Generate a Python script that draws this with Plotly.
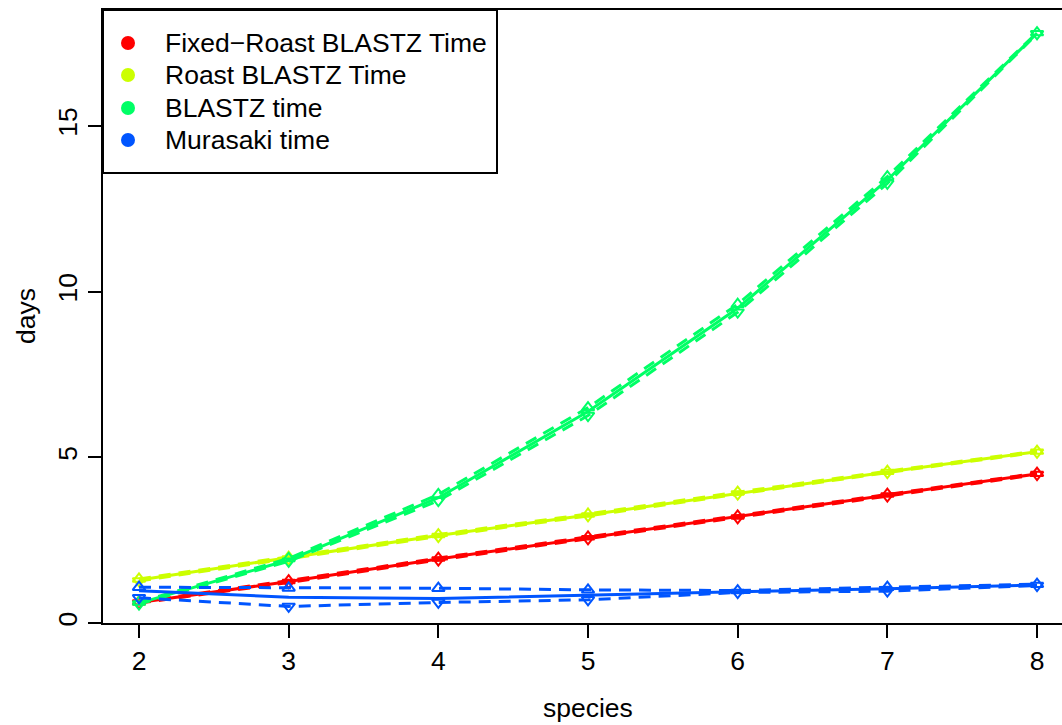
import plotly.graph_objects as go

species = [2, 3, 4, 5, 6, 7, 8]

series_names = ["Fixed\u2212Roast BLASTZ Time", "Roast BLASTZ Time", "BLASTZ time", "Murasaki time"]
series_colors = ["#FF0000", "#CCFF00", "#00FF66", "#0055FF"]

fixed_roast_mean = [0.62, 1.25, 1.93, 2.57, 3.20, 3.86, 4.50]
fixed_roast_hi = [0.64, 1.28, 1.96, 2.60, 3.23, 3.89, 4.52]
fixed_roast_lo = [0.60, 1.22, 1.90, 2.54, 3.17, 3.83, 4.48]

roast_mean = [1.30, 1.96, 2.64, 3.26, 3.92, 4.56, 5.17]
roast_hi = [1.33, 1.99, 2.67, 3.29, 3.95, 4.58, 5.19]
roast_lo = [1.27, 1.93, 2.61, 3.23, 3.89, 4.54, 5.15]

blastz_mean = [0.60, 1.90, 3.78, 6.38, 9.50, 13.37, 17.80]
blastz_hi = [0.63, 1.95, 3.88, 6.50, 9.62, 13.47, 17.82]
blastz_lo = [0.57, 1.86, 3.69, 6.26, 9.38, 13.27, 17.78]

murasaki_mean = [0.97, 0.78, 0.74, 0.85, 0.94, 1.03, 1.15]
murasaki_hi = [1.08, 1.06, 1.05, 1.00, 0.98, 1.08, 1.17]
murasaki_lo = [0.76, 0.50, 0.62, 0.70, 0.92, 0.96, 1.13]

means = [fixed_roast_mean, roast_mean, blastz_mean, murasaki_mean]
highs = [fixed_roast_hi, roast_hi, blastz_hi, murasaki_hi]
lows = [fixed_roast_lo, roast_lo, blastz_lo, murasaki_lo]

y_ticks = [0, 5, 10, 15]
x_ticks = [2, 3, 4, 5, 6, 7, 8]

W, H = 1062, 725
L, R, T, B = 103, 0, 10, 102
PW = W - L - R
PH = H - T - B

fig = go.Figure()
for name, col, m, hi, lo in zip(series_names, series_colors, means, highs, lows):
    fig.add_trace(go.Scatter(x=species, y=hi, mode="lines+markers", showlegend=False,
                             line=dict(color=col, width=3, dash="12px,8px"),
                             marker=dict(symbol="triangle-up-open", size=11, color=col,
                                         line=dict(color=col, width=2))))
    fig.add_trace(go.Scatter(x=species, y=lo, mode="lines+markers", showlegend=False,
                             line=dict(color=col, width=3, dash="12px,8px"),
                             marker=dict(symbol="triangle-down-open", size=11, color=col,
                                         line=dict(color=col, width=2))))
    fig.add_trace(go.Scatter(x=species, y=m, mode="lines", showlegend=False, name=name,
                             line=dict(color=col, width=3)))

font = "Liberation Sans, Arial, Helvetica, sans-serif"
FS = 26.5

shapes = []
annotations = []

def px2paper(px, py):
    return (px - L) / PW, (H - B - py) / PH

# legend box
x0, y0 = px2paper(103, 173)
x1, y1 = px2paper(497, 10)
shapes.append(dict(type="rect", xref="paper", yref="paper", x0=x0, y0=y0, x1=x1, y1=y1,
                   line=dict(color="black", width=2), fillcolor="white", layer="above"))
row_y = [43, 75, 108, 140]
for name, col, ry in zip(series_names, series_colors, row_y):
    cx0, cy0 = px2paper(128 - 7, ry + 7)
    cx1, cy1 = px2paper(128 + 7, ry - 7)
    shapes.append(dict(type="circle", xref="paper", yref="paper", x0=cx0, y0=cy0, x1=cx1, y1=cy1,
                       line=dict(color=col, width=0), fillcolor=col, layer="above"))
    tx, ty = px2paper(163, ry)
    annotations.append(dict(xref="paper", yref="paper", x=tx, y=ty, text=name, showarrow=False,
                            xanchor="left", yanchor="middle", font=dict(family=font, size=FS, color="black")))

# axis titles
tx, ty = px2paper(588, 708)
annotations.append(dict(xref="paper", yref="paper", x=tx, y=ty, text="species", showarrow=False,
                        xanchor="center", yanchor="middle", font=dict(family=font, size=FS, color="black")))
tx, ty = px2paper(26, 316)
annotations.append(dict(xref="paper", yref="paper", x=tx, y=ty, text="days", showarrow=False, textangle=-90,
                        xanchor="center", yanchor="middle", font=dict(family=font, size=FS, color="black")))

fig.update_layout(
    width=W, height=H,
    margin=dict(l=L, r=R, t=T, b=B, pad=0),
    paper_bgcolor="white", plot_bgcolor="white",
    showlegend=False,
    shapes=shapes, annotations=annotations,
    font=dict(family=font, size=FS, color="black"),
    xaxis=dict(range=[2 - 36 / 149.67, 2 + (1062 - 139) / 149.67], tickvals=x_ticks,
               ticktext=[str(v) for v in x_ticks],
               showgrid=False, zeroline=False, showline=True, mirror=True, linecolor="black", linewidth=2,
               ticks="outside", ticklen=13, tickwidth=1.5, tickcolor="black",
               tickfont=dict(family=font, size=FS, color="black")),
    yaxis=dict(range=[0, 18.5], tickvals=y_ticks, ticktext=[str(v) for v in y_ticks],
               showgrid=False, zeroline=False, showline=True, mirror=False, linecolor="black", linewidth=2,
               ticks="outside", ticklen=13, tickwidth=1.5, tickcolor="black", tickangle=-90,
               tickfont=dict(family=font, size=FS, color="black")),
)

fig.write_html("out.html")
